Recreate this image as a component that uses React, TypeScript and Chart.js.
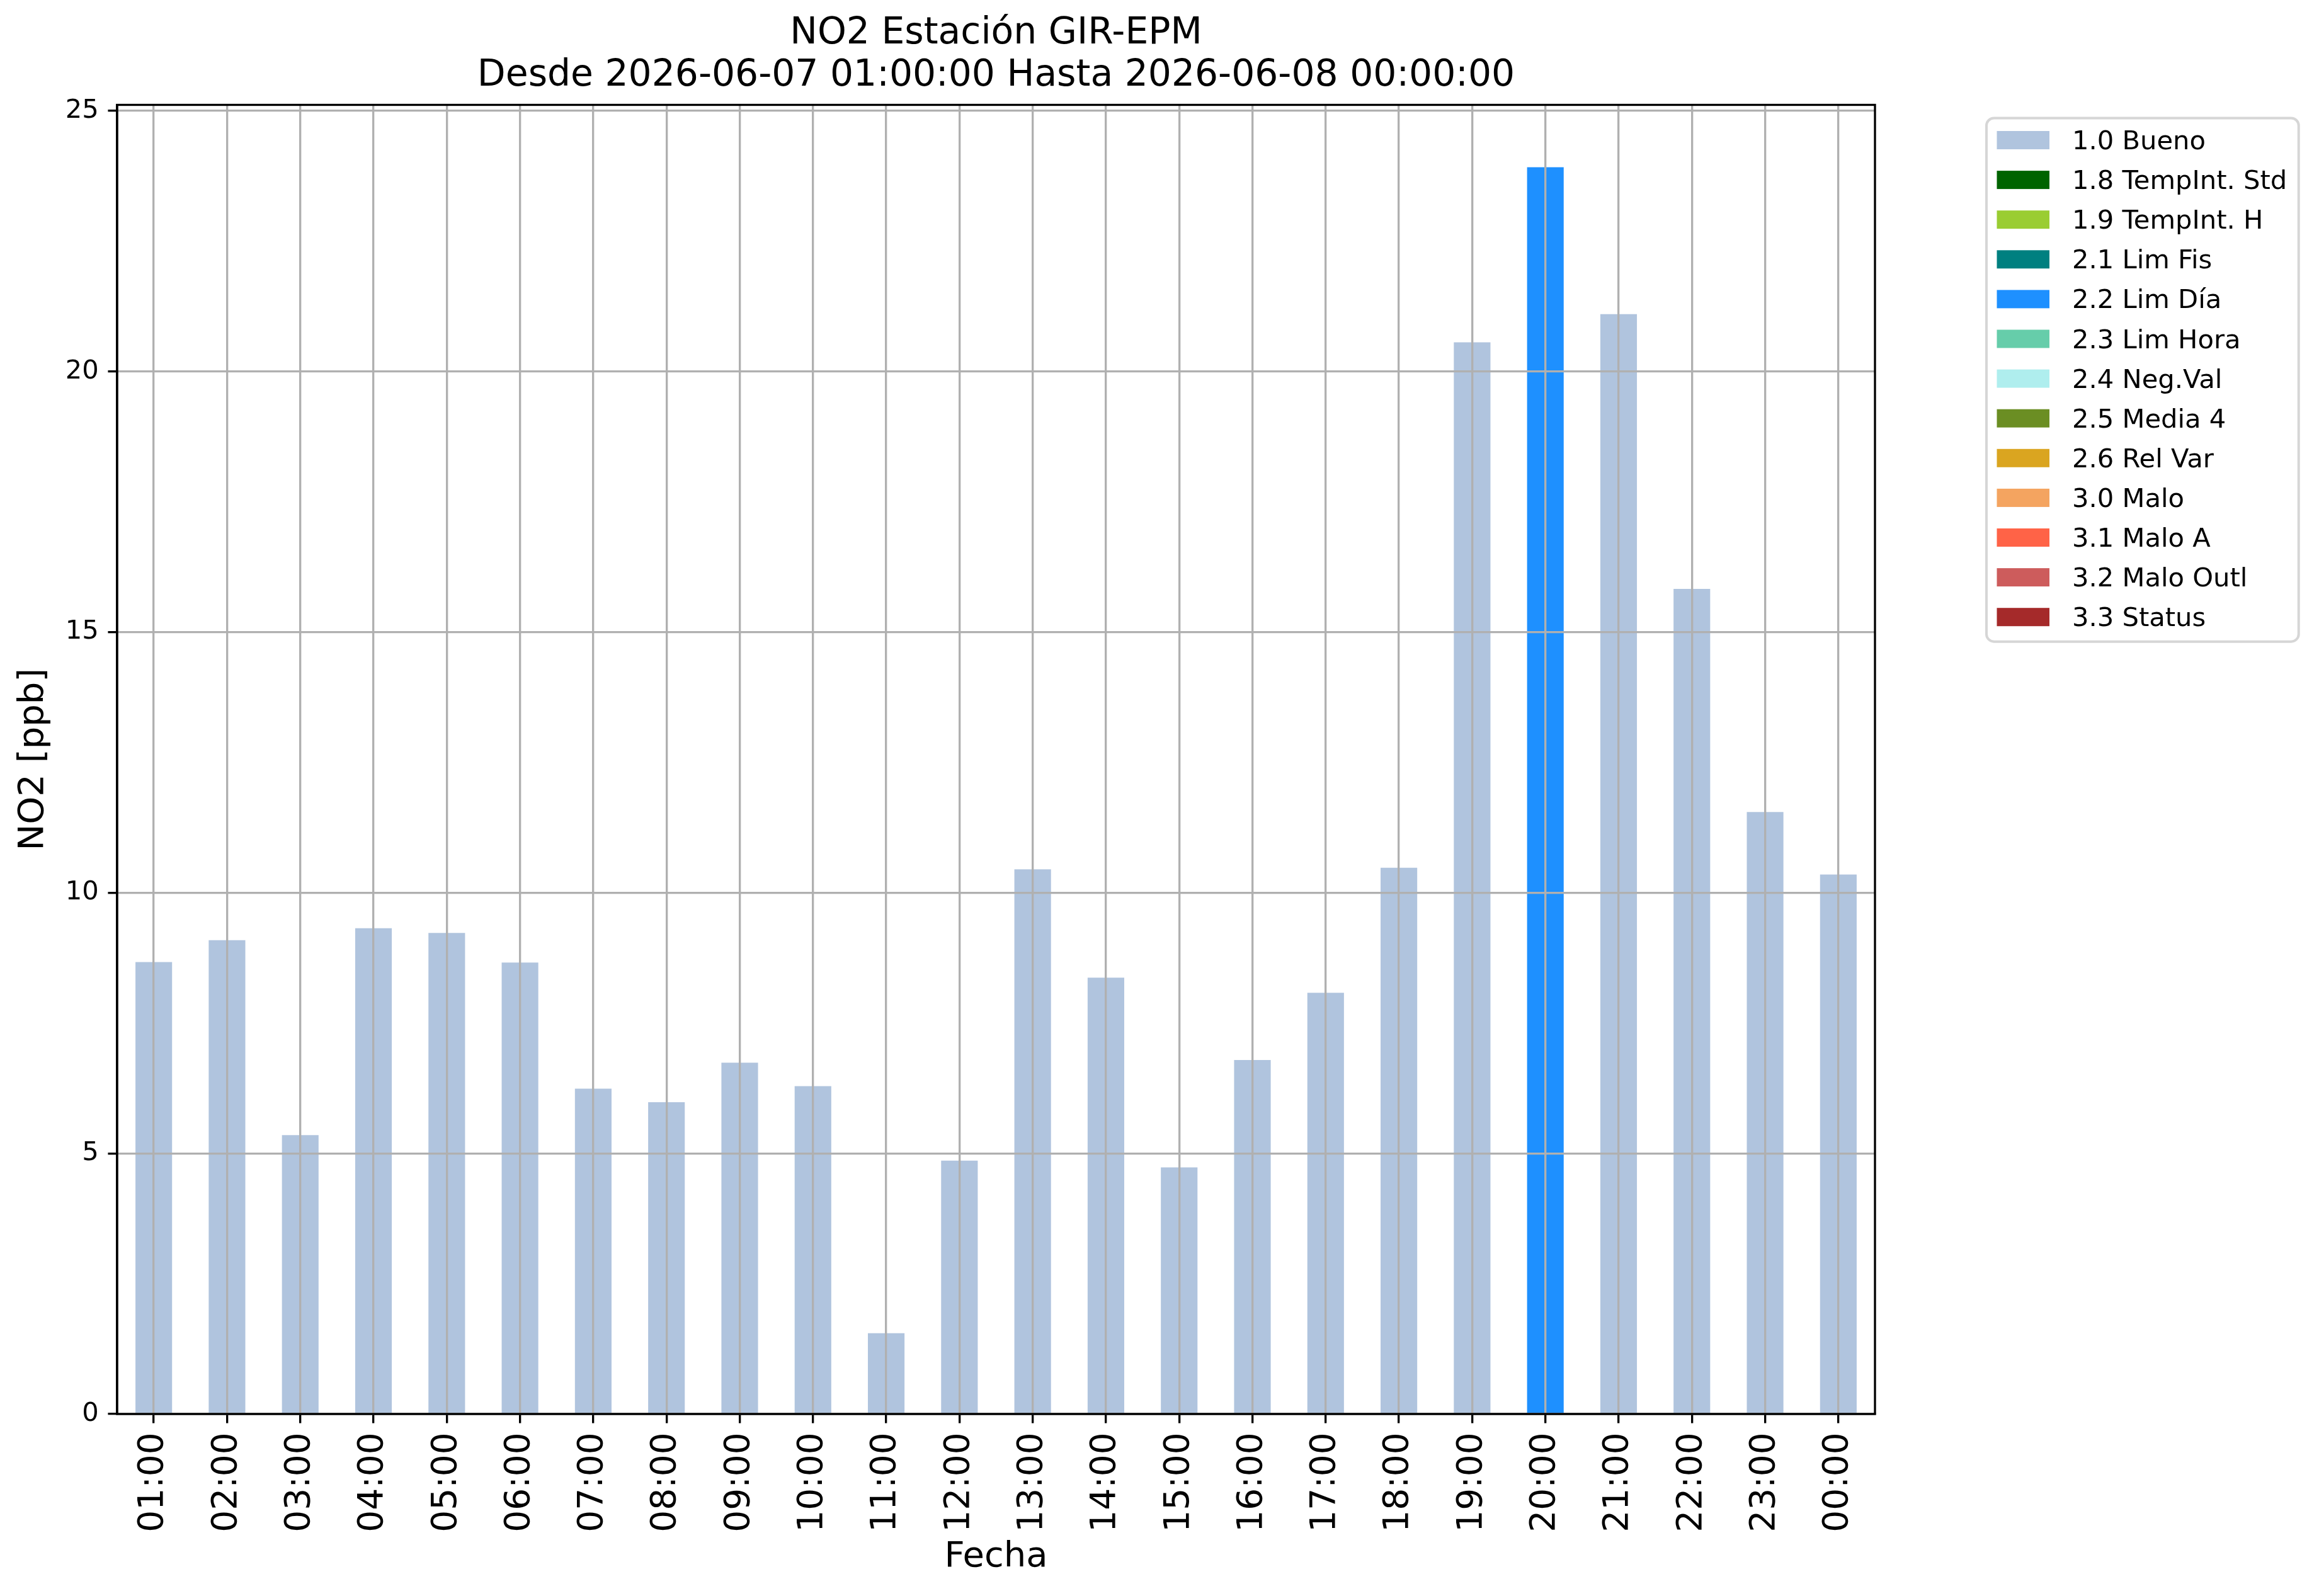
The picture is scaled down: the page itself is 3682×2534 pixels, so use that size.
import { useEffect, useRef } from "react"
import { Chart, registerables, type ChartConfiguration, type Plugin } from "chart.js"

Chart.register(...registerables)
Chart.defaults.font.family = "'DejaVu Sans'"

// datos
const horas = [
  "01:00", "02:00", "03:00", "04:00", "05:00", "06:00", "07:00", "08:00",
  "09:00", "10:00", "11:00", "12:00", "13:00", "14:00", "15:00", "16:00",
  "17:00", "18:00", "19:00", "20:00", "21:00", "22:00", "23:00", "00:00",
]
const no2 = [
  8.67, 9.09, 5.35, 9.32, 9.23, 8.66, 6.24, 5.98, 6.74, 6.29, 1.55, 4.86,
  10.45, 8.37, 4.73, 6.79, 8.08, 10.48, 20.56, 23.92, 21.1, 15.83, 11.55, 10.35,
]
const banderas = [
  "1.0", "1.0", "1.0", "1.0", "1.0", "1.0", "1.0", "1.0", "1.0", "1.0", "1.0", "1.0",
  "1.0", "1.0", "1.0", "1.0", "1.0", "1.0", "1.0", "2.2", "1.0", "1.0", "1.0", "1.0",
]
const categorias = [
  "1.0 Bueno", "1.8 TempInt. Std", "1.9 TempInt. H", "2.1 Lim Fis", "2.2 Lim Día",
  "2.3 Lim Hora", "2.4 Neg.Val", "2.5 Media 4", "2.6 Rel Var", "3.0 Malo",
  "3.1 Malo A", "3.2 Malo Outl", "3.3 Status",
]
const colores = [
  "#b0c4de", "#006400", "#9acd32", "#008080", "#1e90ff", "#66cdaa", "#afeeee",
  "#6b8e23", "#daa520", "#f4a460", "#ff6347", "#cd5c5c", "#a52a2a",
]

const PT = 300 / 72
const GRIS = "#b0b0b0"

const marco: Plugin<"bar"> = {
  id: "marco",
  afterDraw(chart) {
    const { ctx, chartArea } = chart
    ctx.save()
    ctx.strokeStyle = "#000"
    ctx.lineWidth = 0.8 * PT
    ctx.strokeRect(chartArea.left, chartArea.top, chartArea.right - chartArea.left, chartArea.bottom - chartArea.top)
    ctx.restore()
  },
}

const leyenda: Plugin<"bar"> = {
  id: "leyenda",
  afterDraw(chart) {
    const { ctx, chartArea } = chart
    const fs = 10 * PT
    const rowH = 63.1
    ctx.save()
    ctx.font = `${fs}px 'DejaVu Sans'`
    const textos = chart.data.datasets.map((d) => String(d.label))
    const textW = Math.max(...textos.map((t) => ctx.measureText(t).width))
    const x0 = chartArea.right + 177
    const y0 = chartArea.top + 21
    const w = 136 + textW + 18.5
    const h = 35 + (textos.length - 1) * rowH + 39
    ctx.fillStyle = "rgba(255,255,255,0.8)"
    ctx.strokeStyle = "#d6d6d6"
    ctx.lineWidth = 4
    ctx.beginPath()
    ctx.roundRect(x0, y0, w, h, 12)
    ctx.fill()
    ctx.stroke()
    chart.data.datasets.forEach((d, i) => {
      const cy = y0 + 35 + i * rowH
      ctx.fillStyle = d.backgroundColor as string
      ctx.fillRect(x0 + 16.5, cy - 14.5, 83.5, 29)
      ctx.fillStyle = "#000"
      ctx.textBaseline = "alphabetic"
      ctx.fillText(textos[i], x0 + 136, cy + 14.5)
    })
    ctx.restore()
  },
}

export default function App() {
  const canvasRef = useRef<HTMLCanvasElement>(null)

  useEffect(() => {
    document.body.style.margin = "0"
    const canvas = canvasRef.current
    if (!canvas) return

    const yMax = Math.max(...no2) * 1.05

    const config: ChartConfiguration<"bar"> = {
      type: "bar",
      data: {
        labels: horas,
        datasets: categorias.map((cat, k) => ({
          label: cat,
          data: no2.map((v, i) => (cat.startsWith(banderas[i] + " ") ? v : null)),
          backgroundColor: colores[k],
          borderWidth: 0,
          barPercentage: 0.5,
          categoryPercentage: 1,
        })),
      },
      options: {
        animation: false,
        responsive: false,
        devicePixelRatio: 1,
        layout: { padding: { left: 0, top: 0, right: 705, bottom: 0 } },
        plugins: {
          legend: { display: false },
          tooltip: { enabled: false },
          title: {
            display: true,
            fullSize: false,
            text: ["NO2 Estación GIR-EPM", "Desde 2026-06-07 01:00:00 Hasta 2026-06-08 00:00:00"],
            color: "#000",
            font: { size: 14 * PT, weight: "normal", lineHeight: 1.14 },
            padding: { top: 21, bottom: 12.5 },
          },
        },
        scales: {
          x: {
            stacked: true,
            offset: true,
            afterFit: (s) => {
              s.height = 289
            },
            grid: {
              offset: false,
              color: GRIS,
              lineWidth: 0.8 * PT,
              z: 1,
              tickColor: "#000",
              tickLength: 3.5 * PT,
              tickWidth: 0.8 * PT,
            },
            border: { color: "#000", width: 0.8 * PT, z: 1 },
            ticks: {
              autoSkip: false,
              minRotation: 90,
              maxRotation: 90,
              color: "#000",
              font: { size: 55 },
              padding: 3.5 * PT,
            },
            title: {
              display: true,
              text: "Fecha",
              color: "#000",
              font: { size: 56 },
              padding: { top: 0, bottom: 27.8 },
            },
          },
          y: {
            stacked: true,
            min: 0,
            max: yMax,
            afterFit: (s) => {
              s.width = 186
            },
            grid: {
              color: GRIS,
              lineWidth: 0.8 * PT,
              z: 1,
              tickColor: "#000",
              tickLength: 3.5 * PT,
              tickWidth: 0.8 * PT,
            },
            border: { color: "#000", width: 0.8 * PT, z: 1 },
            ticks: {
              stepSize: 5,
              includeBounds: false,
              color: "#000",
              font: { size: 10 * PT },
              padding: 3.5 * PT,
            },
            title: {
              display: true,
              text: "NO2 [ppb]",
              color: "#000",
              font: { size: 56 },
              padding: { top: 19.4, bottom: 0 },
            },
          },
        },
      },
      plugins: [marco, leyenda],
    }

    const chart = new Chart(canvas, config)
    return () => chart.destroy()
  }, [])

  return <canvas ref={canvasRef} width={3682} height={2534} style={{ display: "block" }} />
}
